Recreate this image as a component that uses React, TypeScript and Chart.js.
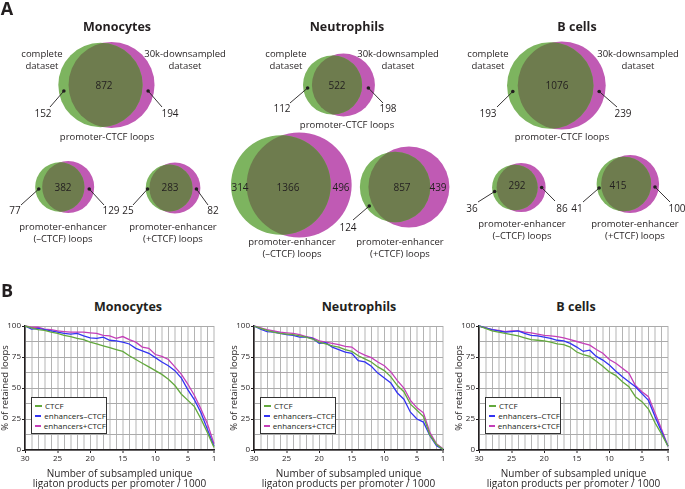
import React, { useEffect, useRef } from 'react';
import { Chart, registerables } from 'chart.js';

Chart.register(...registerables);

const FONT = '"Open Sans", "Noto Sans", "DejaVu Sans", sans-serif';
const INK = '#231f20';

// ---------------- Panel A data (Venn counts) ----------------
// order: Mono P-CTCF, Mono PE(-CTCF), Mono PE(+CTCF), Neutro x3, B cells x3
const cellTypes = ['Monocytes', 'Neutrophils', 'B cells'];
const completeOnly = [152, 77, 25, 112, 314, 124, 193, 36, 41];
const sharedLoops = [872, 382, 283, 522, 1366, 857, 1076, 292, 415];
const downsampledOnly = [194, 129, 82, 198, 496, 439, 239, 86, 100];

// ---------------- Panel B data (% retained loops) ----------------
const subsampledK = [30, 29, 28, 27, 26, 25, 24, 23, 22, 21, 20, 19, 18, 17, 16, 15, 14, 13, 12, 11, 10, 9, 8, 7, 6, 5, 4, 3, 2, 1];
const monoCTCF = [100, 98.5, 97, 96.5, 95, 94, 92.5, 91.5, 90, 89, 87, 85.5, 84, 82.5, 81, 79.5, 76, 73, 70, 67, 64, 61, 57, 52, 45, 40, 35, 25, 14, 2];
const monoEnhNoCTCF = [100, 97.5, 98, 97, 96, 95, 94, 93.5, 94, 92, 90.5, 90, 91, 88.5, 88, 87, 85.5, 82, 80, 78, 74.5, 71, 68, 64, 58, 48.5, 40.5, 30, 16.5, 3];
const monoEnhCTCF = [100, 99, 99, 97.5, 97, 96, 95.5, 95, 95, 95, 94.5, 94, 92.5, 92, 90, 91.5, 89, 87, 83, 82, 77, 75.5, 73, 67, 61, 53, 44, 33, 21, 5];
const neutCTCF = [100, 98, 96.5, 95, 94, 93.5, 93, 92, 91, 89.5, 87, 85.5, 84, 83, 81, 79.5, 76, 73.5, 71, 67, 64, 59, 52, 47, 37, 32, 27, 12, 4.5, 0.5];
const neutEnhNoCTCF = [100, 97.5, 95.5, 95, 94, 93, 92.5, 91, 91, 90, 86, 86.5, 83, 81, 79, 78, 72, 71, 67.5, 62, 58, 54, 46, 41, 30.5, 25, 22.5, 11.5, 3.5, 0.5];
const neutEnhCTCF = [100, 98.5, 97, 96, 95, 94.5, 94, 93, 91.5, 90.5, 88, 87, 86, 85, 83.5, 83, 79, 76.5, 74.5, 71, 68, 63, 56, 50, 40, 34, 30, 14, 5, 1];
const bCTCF = [100, 98, 96, 95, 94, 93, 92, 90.5, 89, 88.5, 88, 87, 85.5, 85, 83, 79, 77, 75.5, 71.5, 67.5, 63, 60, 55, 51, 43, 39, 33, 22, 13, 3];
const bEnhNoCTCF = [100, 98.5, 97, 96, 95, 95.5, 96, 94, 92.5, 92, 91, 90, 88.5, 88, 86, 83, 79.5, 80.5, 75.5, 72.5, 68.5, 63.5, 59, 55, 51, 45.5, 40, 27, 15, 3];
const bEnhCTCF = [100, 98.5, 97, 96.5, 95.5, 96, 96, 95, 94.5, 93.5, 92.5, 92, 91.5, 90.5, 89, 87.5, 86, 84.5, 81, 78, 73, 70, 66, 62, 52, 47, 43, 30, 17, 3];
const seriesNames = ['CTCF', 'enhancers\u2013CTCF', 'enhancers+CTCF'];
const yTickLabels = [0, 25, 50, 75, 100];
const xTickLabels = [30, 25, 20, 15, 10, 5, 1];

const curveSeries = [
  [monoCTCF, monoEnhNoCTCF, monoEnhCTCF],
  [neutCTCF, neutEnhNoCTCF, neutEnhCTCF],
  [bCTCF, bEnhNoCTCF, bEnhCTCF],
];

// ---------------- styles / layout ----------------
const SERIES_COLORS = ['#63a83d', '#3333f2', '#c43fb8'];
const VENN_GREEN = '#7db45f';
const VENN_PURPLE = '#c05ab4';
const VENN_LENS = '#6e7c4e';

type Pt = { x: number; y: number };
type VennLayout = {
  cx: number; cy: number; R: number; dyL: number; dyR: number;
  inner: Pt; left: Pt; right: Pt; leadL: Pt | null; leadR: Pt | null;
};
const VENN_LAYOUT: VennLayout[] = [
  { cx: 106, cy: 85, R: 43, dyL: 6, dyR: 6, inner: { x: 104, y: 85 }, left: { x: 43, y: 113 }, right: { x: 170, y: 113 }, leadL: { x: 50, y: 107 }, leadR: { x: 162, y: 107 } },
  { cx: 64, cy: 187, R: 26, dyL: 2, dyR: 2, inner: { x: 63, y: 187 }, left: { x: 15, y: 210 }, right: { x: 111, y: 210 }, leadL: { x: 21, y: 205 }, leadR: { x: 104, y: 205 } },
  { cx: 172, cy: 188, R: 25.5, dyL: 1, dyR: 1, inner: { x: 170, y: 187 }, left: { x: 128, y: 210 }, right: { x: 213, y: 210 }, leadL: { x: 133, y: 205 }, leadR: { x: 208, y: 205 } },
  { cx: 338, cy: 85, R: 31.5, dyL: 3, dyR: 3, inner: { x: 337, y: 85 }, left: { x: 282, y: 108 }, right: { x: 388, y: 108 }, leadL: { x: 290, y: 103 }, leadR: { x: 383, y: 103 } },
  { cx: 290, cy: 185, R: 52.5, dyL: 0, dyR: 0, inner: { x: 288, y: 187 }, left: { x: 240, y: 187 }, right: { x: 341, y: 187 }, leadL: null, leadR: null },
  { cx: 402, cy: 187, R: 40.5, dyL: 19, dyR: 0, inner: { x: 402, y: 187 }, left: { x: 348, y: 227 }, right: { x: 438, y: 187 }, leadL: { x: 353, y: 220 }, leadR: null },
  { cx: 556, cy: 85.5, R: 44, dyL: 6, dyR: 6, inner: { x: 557, y: 85 }, left: { x: 488, y: 113 }, right: { x: 623, y: 113 }, leadL: { x: 497, y: 107 }, leadR: { x: 617, y: 107 } },
  { cx: 518, cy: 187.5, R: 24.5, dyL: 4, dyR: 0, inner: { x: 517, y: 185 }, left: { x: 472, y: 208 }, right: { x: 562, y: 208 }, leadL: { x: 478, y: 202 }, leadR: { x: 555, y: 201 } },
  { cx: 627, cy: 184, R: 29, dyL: 4, dyR: 3, inner: { x: 618, y: 185 }, left: { x: 577, y: 208 }, right: { x: 677, y: 208 }, leadL: { x: 583, y: 202 }, leadR: { x: 670, y: 202 } },
];

const CURVE_LAYOUT = [
  { left: 0, titleX: 128 },
  { left: 229, titleX: 359 },
  { left: 454, titleX: 576 },
];

// ---------------- geometry for area-proportional Venn ----------------
function lensArea(r1: number, r2: number, d: number) {
  if (d >= r1 + r2) return 0;
  if (d <= Math.abs(r1 - r2)) return Math.PI * Math.min(r1, r2) ** 2;
  const a = r1 * r1 * Math.acos((d * d + r1 * r1 - r2 * r2) / (2 * d * r1));
  const b = r2 * r2 * Math.acos((d * d + r2 * r2 - r1 * r1) / (2 * d * r2));
  const c = 0.5 * Math.sqrt((-d + r1 + r2) * (d + r1 - r2) * (d - r1 + r2) * (d + r1 + r2));
  return a + b - c;
}

function vennGeometry(i: number) {
  const L = VENN_LAYOUT[i];
  const nA = completeOnly[i] + sharedLoops[i];
  const nB = downsampledOnly[i] + sharedLoops[i];
  const s = L.R / Math.sqrt(Math.max(nA, nB));
  const rA = s * Math.sqrt(nA);
  const rB = s * Math.sqrt(nB);
  const target = Math.PI * s * s * sharedLoops[i];
  let lo = Math.abs(rA - rB);
  let hi = rA + rB;
  for (let k = 0; k < 60; k++) {
    const mid = (lo + hi) / 2;
    if (lensArea(rA, rB, mid) > target) lo = mid; else hi = mid;
  }
  const d = (lo + hi) / 2;
  return { gx: L.cx - d / 2, px: L.cx + d / 2, cy: L.cy, rA, rB };
}

const VW = 685;
const VH = 280;

const lensPlugin = {
  id: 'vennLens',
  afterDatasetsDraw(chart: any) {
    const ctx = chart.ctx;
    const gMeta = chart.getDatasetMeta(0).data;
    const pMeta = chart.getDatasetMeta(1).data;
    const xs = chart.scales.x;
    const ys = chart.scales.y;
    gMeta.forEach((g: any, i: number) => {
      const p = pMeta[i];
      const rA = g.options.radius;
      const rB = p.options.radius;
      ctx.save();
      ctx.beginPath();
      ctx.arc(g.x, g.y, rA, 0, Math.PI * 2);
      ctx.clip();
      ctx.beginPath();
      ctx.arc(p.x, p.y, rB, 0, Math.PI * 2);
      ctx.fillStyle = VENN_LENS;
      ctx.fill();
      ctx.restore();

      const L = VENN_LAYOUT[i];
      ctx.save();
      ctx.strokeStyle = INK;
      ctx.fillStyle = INK;
      ctx.lineWidth = 0.9;
      const drawLead = (dot: Pt, end: Pt) => {
        ctx.beginPath();
        ctx.moveTo(dot.x, dot.y);
        ctx.lineTo(xs.getPixelForValue(end.x), ys.getPixelForValue(end.y));
        ctx.stroke();
        ctx.beginPath();
        ctx.arc(dot.x, dot.y, 1.8, 0, Math.PI * 2);
        ctx.fill();
      };
      if (L.leadL) {
        const dy = L.dyL;
        const gl = g.x - Math.sqrt(Math.max(rA * rA - dy * dy, 0));
        const pl = p.x - Math.sqrt(Math.max(rB * rB - dy * dy, 0));
        drawLead({ x: (gl + pl) / 2, y: g.y + dy }, L.leadL);
      }
      if (L.leadR) {
        const dy = L.dyR;
        const gr = g.x + Math.sqrt(Math.max(rA * rA - dy * dy, 0));
        const pr = p.x + Math.sqrt(Math.max(rB * rB - dy * dy, 0));
        drawLead({ x: (gr + pr) / 2, y: p.y + dy }, L.leadR);
      }
      ctx.restore();
    });
  },
};

function VennPanel() {
  const ref = useRef<HTMLCanvasElement>(null);
  useEffect(() => {
    const geoms = VENN_LAYOUT.map((_, i) => vennGeometry(i));
    const chart = new Chart(ref.current as HTMLCanvasElement, {
      type: 'bubble',
      data: {
        datasets: [
          {
            label: 'complete dataset',
            data: geoms.map((g) => ({ x: g.gx, y: g.cy, r: g.rA })),
            backgroundColor: VENN_GREEN,
            borderWidth: 0,
            hoverRadius: 0,
            clip: false as any,
          },
          {
            label: '30k-downsampled dataset',
            data: geoms.map((g) => ({ x: g.px, y: g.cy, r: g.rB })),
            backgroundColor: VENN_PURPLE,
            borderWidth: 0,
            hoverRadius: 0,
            clip: false as any,
          },
        ],
      },
      options: {
        animation: false,
        responsive: false,
        events: [],
        layout: { padding: 0, autoPadding: false },
        scales: {
          x: { type: 'linear', min: 0, max: VW, display: false },
          y: { type: 'linear', min: 0, max: VH, reverse: true, display: false },
        },
        plugins: { legend: { display: false }, tooltip: { enabled: false }, title: { display: false } },
      },
      plugins: [lensPlugin],
    } as any);
    return () => chart.destroy();
  }, []);
  return <canvas ref={ref} width={VW} height={VH} style={{ position: 'absolute', left: 0, top: 0 }} />;
}

function CurveChart({ idx }: { idx: number }) {
  const ref = useRef<HTMLCanvasElement>(null);
  useEffect(() => {
    const tickFont = { family: FONT, size: 8 };
    const isXLabel = (v: number) => xTickLabels.includes(v);
    const isYLabel = (v: number) => yTickLabels.includes(v);
    const chart = new Chart(ref.current as HTMLCanvasElement, {
      type: 'line',
      data: {
        datasets: curveSeries[idx].map((vals, s) => ({
          label: seriesNames[s],
          data: subsampledK.map((x, i) => ({ x, y: vals[i] })),
          borderColor: SERIES_COLORS[s],
          backgroundColor: SERIES_COLORS[s],
          borderWidth: 1.3,
          pointRadius: 0,
          tension: 0,
          fill: false,
          clip: false as any,
        })),
      },
      options: {
        animation: false,
        responsive: false,
        events: [],
        layout: { padding: { top: 10, right: 11, left: 0, bottom: 0 } },
        plugins: { legend: { display: false }, tooltip: { enabled: false }, title: { display: false } },
        scales: {
          x: {
            type: 'linear',
            reverse: true,
            min: 1,
            max: 30,
            ticks: {
              stepSize: 1,
              autoSkip: false,
              maxRotation: 0,
              minRotation: 0,
              padding: 1,
              color: INK,
              font: tickFont,
              callback: (v: any) => (isXLabel(Number(v)) ? String(v) : ''),
            },
            grid: {
              color: (c: any) => (c.tick && c.tick.value % 2 === 1 ? '#dadada' : '#b4b4b4'),
              lineWidth: (c: any) => (c.tick && c.tick.value % 2 === 1 ? 2 : 1),
              tickLength: 3,
              tickColor: (c: any) => (c.tick && isXLabel(c.tick.value) ? INK : 'rgba(0,0,0,0)'),
              tickWidth: 1,
            },
            border: { color: INK, width: 1.5 },
            title: {
              display: true,
              text: ['Number of subsampled unique', 'ligaton products per promoter / 1000'],
              color: INK,
              font: { family: FONT, size: 10, lineHeight: 1.0 },
              padding: { top: 4, bottom: 0 },
            },
            afterFit: (scale: any) => {
              scale.height = 39;
            },
          },
          y: {
            type: 'linear',
            min: 0,
            max: 100,
            ticks: {
              stepSize: 12.5,
              padding: 1,
              color: INK,
              font: tickFont,
              callback: (v: any) => (isYLabel(Number(v)) ? String(v) : ''),
            },
            grid: {
              color: '#ababab',
              lineWidth: 1,
              tickLength: 3,
              tickColor: (c: any) => (c.tick && isYLabel(c.tick.value) ? INK : 'rgba(0,0,0,0)'),
            },
            border: { color: INK, width: 1.5 },
            title: {
              display: true,
              text: '% of retained loops',
              color: INK,
              font: { family: FONT, size: 9.5 },
              padding: { top: 0, bottom: 1 },
            },
            afterFit: (scale: any) => {
              scale.width = 25;
            },
          },
        },
      },
    } as any);
    return () => chart.destroy();
  }, [idx]);
  const L = CURVE_LAYOUT[idx];
  return (
    <>
      <canvas ref={ref} width={225} height={173} style={{ position: 'absolute', left: L.left, top: 316 }} />
      <Text x={L.titleX} y={307} size={12.5} bold>
        {cellTypes[idx]}
      </Text>
      <Legend left={L.left + 31} top={397} />
    </>
  );
}

function Legend({ left, top }: { left: number; top: number }) {
  return (
    <div
      style={{
        position: 'absolute',
        left,
        top,
        width: 76,
        height: 37,
        boxSizing: 'border-box',
        border: '1px solid #333',
        background: '#fff',
        padding: '3px 0 0 3px',
      }}
    >
      {seriesNames.map((n, i) => (
        <div key={n} style={{ display: 'flex', alignItems: 'center', height: 10 }}>
          <span style={{ display: 'inline-block', width: 7, height: 1.5, background: SERIES_COLORS[i], marginRight: 3 }} />
          <span style={{ fontFamily: FONT, fontSize: 8, lineHeight: '10px', color: INK, whiteSpace: 'nowrap' }}>{n}</span>
        </div>
      ))}
    </div>
  );
}

function Text({ x, y, size, bold, children }: { x: number; y: number; size: number; bold?: boolean; children: React.ReactNode }) {
  return (
    <div
      style={{
        position: 'absolute',
        left: x,
        top: y,
        transform: 'translate(-50%, -50%)',
        fontFamily: FONT,
        fontSize: size,
        fontWeight: bold ? 700 : 400,
        lineHeight: 1,
        color: INK,
        whiteSpace: 'nowrap',
        textAlign: 'center',
      }}
    >
      {children}
    </div>
  );
}

const titlePos = [
  { x: 117, y: 27 },
  { x: 347, y: 27 },
  { x: 577, y: 27 },
];
const completePos = [
  { x: 42, y: 54 },
  { x: 286, y: 54 },
  { x: 488, y: 54 },
];
const downPos = [
  { x: 185, y: 54 },
  { x: 398, y: 54 },
  { x: 638, y: 54 },
];
const pctcfPos = [
  { x: 107, y: 137 },
  { x: 347, y: 125 },
  { x: 562, y: 137 },
];
const peNoPos = [
  { x: 63, y: 227 },
  { x: 292, y: 242 },
  { x: 522, y: 224 },
];
const pePlusPos = [
  { x: 173, y: 227 },
  { x: 400, y: 242 },
  { x: 635, y: 224 },
];
const PE_NO_TEXT = '(\u2013CTCF) loops';
const PE_PLUS_TEXT = '(+CTCF) loops';

export default function App() {
  return (
    <div style={{ position: 'absolute', left: 0, top: 0, width: 685, height: 489, background: '#fff', overflow: 'hidden' }}>
      <VennPanel />
      <Text x={7} y={8} size={18} bold>A</Text>
      <Text x={7} y={290} size={18} bold>B</Text>
      {cellTypes.map((c, k) => (
        <React.Fragment key={c}>
          <Text x={titlePos[k].x} y={titlePos[k].y} size={12.5} bold>{c}</Text>
          <Text x={completePos[k].x} y={completePos[k].y} size={9.5}>complete</Text>
          <Text x={completePos[k].x} y={completePos[k].y + 12} size={9.5}>dataset</Text>
          <Text x={downPos[k].x} y={downPos[k].y} size={9.5}>30k-downsampled</Text>
          <Text x={downPos[k].x} y={downPos[k].y + 12} size={9.5}>dataset</Text>
          <Text x={pctcfPos[k].x} y={pctcfPos[k].y} size={9.5}>promoter-CTCF loops</Text>
          <Text x={peNoPos[k].x} y={peNoPos[k].y} size={9.5}>promoter-enhancer</Text>
          <Text x={peNoPos[k].x} y={peNoPos[k].y + 12} size={9.5}>{PE_NO_TEXT}</Text>
          <Text x={pePlusPos[k].x} y={pePlusPos[k].y} size={9.5}>promoter-enhancer</Text>
          <Text x={pePlusPos[k].x} y={pePlusPos[k].y + 12} size={9.5}>{PE_PLUS_TEXT}</Text>
        </React.Fragment>
      ))}
      {VENN_LAYOUT.map((L, i) => (
        <React.Fragment key={i}>
          <Text x={L.inner.x} y={L.inner.y} size={10}>{sharedLoops[i]}</Text>
          <Text x={L.left.x} y={L.left.y} size={10}>{completeOnly[i]}</Text>
          <Text x={L.right.x} y={L.right.y} size={10}>{downsampledOnly[i]}</Text>
        </React.Fragment>
      ))}
      {[0, 1, 2].map((i) => (
        <CurveChart key={i} idx={i} />
      ))}
    </div>
  );
}
